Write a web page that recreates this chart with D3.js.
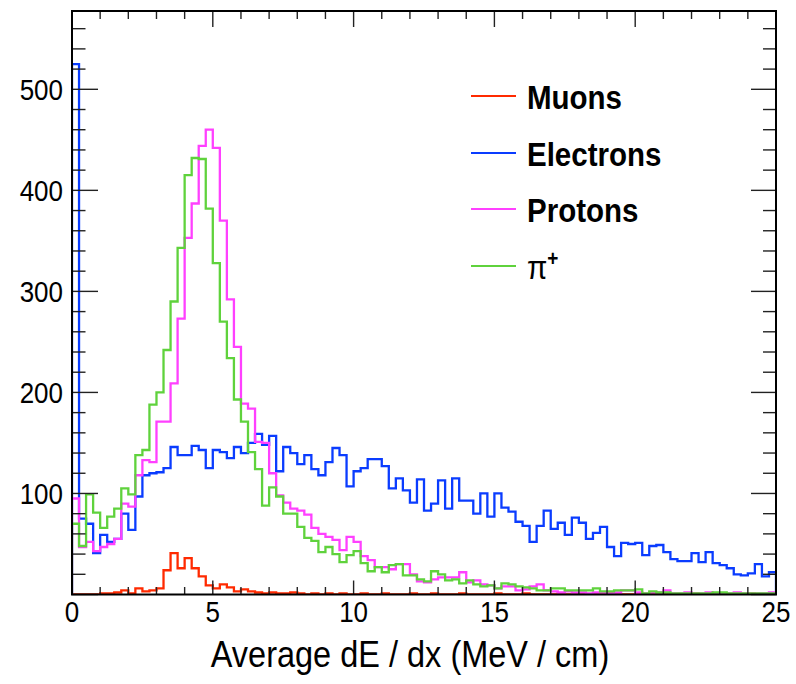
<!DOCTYPE html>
<html>
<head>
<meta charset="utf-8">
<script src="https://cdn.jsdelivr.net/npm/d3@7"></script>
<style>
  html, body { margin: 0; padding: 0; background: #fff; }
  svg { display: block; }
  text { font-family: "Liberation Sans", Arial, Helvetica, sans-serif; fill: #000; }
</style>
</head>
<body>
<svg id="chart" width="796" height="684"></svg>
<script>
// Histogram binning: 100 bins of width 0.25 MeV/cm from 0 to 25
const xMin = 0, xMax = 25, binWidth = 0.25;

// Bin contents per particle type
const muons = [
  0, 0, 0, 0, 1, 1, 2, 4, 1, 6,
  3, 4, 6, 24, 41, 26, 36, 26, 18, 9,
  6, 10, 7, 3, 5, 3, 2, 1, 2, 1,
  1, 2, 1, 0, 1, 0, 1, 0, 1, 0,
  0, 1, 0, 0, 1, 0, 0, 0, 1, 0,
  0, 1, 0, 0, 0, 1, 0, 0, 0, 0,
  1, 0, 0, 0, 1, 0, 0, 0, 0, 1,
  0, 0, 1, 0, 0, 0, 1, 0, 0, 0,
  0, 0, 1, 0, 0, 0, 0, 0, 1, 0,
  0, 0, 0, 0, 0, 0, 1, 0, 0, 0
];
const electrons = [
  525, 75, 70, 41, 59, 52, 55, 80, 64, 97,
  118, 120, 121, 125, 146, 138, 138, 147, 143, 125,
  143, 141, 135, 146, 140, 150, 159, 148, 157, 122,
  146, 140, 129, 138, 124, 118, 131, 145, 138, 107,
  122, 125, 134, 134, 127, 105, 115, 103, 91, 114,
  83, 90, 113, 85, 115, 93, 93, 80, 100, 77,
  100, 86, 82, 72, 68, 52, 68, 83, 65, 71,
  59, 76, 71, 55, 61, 67, 47, 38, 51, 50,
  51, 39, 48, 49, 42, 35, 33, 33, 41, 32,
  42, 31, 29, 26, 20, 19, 21, 30, 18, 22
];
const protons = [
  95, 47, 52, 43, 47, 50, 55, 90, 87, 118,
  133, 131, 171, 171, 209, 273, 353, 387, 444, 460,
  442, 370, 292, 245, 189, 184, 151, 150, 120, 98,
  91, 85, 83, 79, 66, 60, 57, 54, 44, 57,
  52, 38, 34, 27, 27, 25, 30, 30, 20, 13,
  12, 15, 17, 17, 17, 22, 12, 14, 10, 9,
  6, 8, 8, 4, 5, 8, 10, 4, 3, 2,
  3, 2, 2, 1, 2, 2, 1, 2, 4, 4,
  2, 1, 2, 2, 4, 1, 1, 2, 1, 1,
  2, 1, 1, 1, 2, 1, 1, 1, 1, 2
];
const pions = [
  70, 48, 99, 81, 66, 77, 85, 105, 99, 138,
  143, 188, 200, 242, 290, 343, 415, 432, 431, 382,
  328, 270, 234, 193, 171, 141, 124, 88, 106, 97,
  80, 80, 67, 56, 53, 42, 47, 40, 32, 39,
  43, 31, 23, 27, 22, 29, 30, 19, 19, 15,
  13, 23, 20, 14, 15, 11, 14, 10, 8, 9,
  6, 11, 10, 8, 7, 6, 4, 4, 6, 6,
  4, 4, 4, 4, 6, 3, 3, 4, 4, 4,
  5, 1, 3, 2, 2, 1, 1, 1, 1, 1,
  1, 2, 2, 1, 1, 1, 1, 1, 1, 1
];

const seriesNames = ["Muons", "Electrons", "Protons", "π"];
const seriesColors = ["#ff2a00", "#0a3cff", "#ff40ff", "#5fd23c"];
const seriesData = [muons, electrons, protons, pions];

const xTickValues = [0, 5, 10, 15, 20, 25];
const yTickValues = [100, 200, 300, 400, 500];
const yMax = 577.5;

// Frame geometry
const frame = { left: 72, right: 776, top: 11, bottom: 594.5 };
const textStretch = 1.12;

const svg = d3.select("#chart");

const x = d3.scaleLinear().domain([xMin, xMax]).range([frame.left, frame.right]);
const y = d3.scaleLinear().domain([0, yMax]).range([frame.bottom, frame.top]);

svg.append("defs").append("clipPath").attr("id", "plotClip")
  .append("rect")
  .attr("x", frame.left).attr("y", frame.top)
  .attr("width", frame.right - frame.left)
  .attr("height", frame.bottom - frame.top);

// Step outline for one histogram, closed down to the baseline at both ends
function histPoints(values) {
  const pts = [[xMin, 0]];
  values.forEach((v, i) => pts.push([xMin + i * binWidth, v]));
  pts.push([xMin + values.length * binWidth, values[values.length - 1]]);
  pts.push([xMin + values.length * binWidth, 0]);
  return pts;
}
const stepLine = d3.line()
  .x(d => x(d[0]))
  .y(d => y(d[1]))
  .curve(d3.curveStepAfter);

const plot = svg.append("g").attr("clip-path", "url(#plotClip)");
seriesData.forEach((vals, k) => {
  plot.append("path")
    .attr("d", stepLine(histPoints(vals)))
    .attr("fill", "none")
    .attr("stroke", seriesColors[k])
    .attr("stroke-width", 2.3)
    .attr("stroke-linejoin", "miter");
});

// Ticks on all four sides
const tickG = svg.append("g").attr("stroke", "#222").attr("stroke-width", 1.4);
const xMinor = d3.range(xMin, xMax + 0.001, 1);
xMinor.forEach(v => {
  const major = xTickValues.includes(v);
  const px = x(v);
  tickG.append("line").attr("x1", px).attr("x2", px)
    .attr("y1", frame.bottom).attr("y2", frame.bottom - (major ? 14 : 7.5));
  tickG.append("line").attr("x1", px).attr("x2", px)
    .attr("y1", frame.top).attr("y2", frame.top + (major ? 16 : 8));
});
const yMinor = d3.range(0, yMax, 20);
yMinor.forEach(v => {
  const major = v % 100 === 0;
  const py = y(v);
  tickG.append("line").attr("y1", py).attr("y2", py)
    .attr("x1", frame.left).attr("x2", frame.left + (major ? 26 : 13.5));
  tickG.append("line").attr("y1", py).attr("y2", py)
    .attr("x1", frame.right).attr("x2", frame.right - (major ? 25 : 13));
});

// Frame
svg.append("rect")
  .attr("x", frame.left).attr("y", frame.top)
  .attr("width", frame.right - frame.left)
  .attr("height", frame.bottom - frame.top)
  .attr("fill", "none").attr("stroke", "#000").attr("stroke-width", 2);

function stretchedText(px, py, str, size, anchor, weight) {
  const g = svg.append("g").attr("transform", `translate(${px},${py}) scale(1,${textStretch})`);
  return g.append("text")
    .attr("text-anchor", anchor)
    .attr("font-size", size)
    .attr("font-weight", weight || "normal")
    .text(str);
}

// Tick labels
xTickValues.forEach(v => stretchedText(x(v), 622, String(v), 26, "middle"));
yTickValues.forEach(v => stretchedText(63, y(v) + 10.5, String(v), 26, "end"));

// Axis title
stretchedText(410, 667, "Average dE / dx (MeV / cm)", 32.5, "middle");

// Legend
const legendRowY = [96, 153, 209, 266];
seriesNames.forEach((name, k) => {
  const ly = legendRowY[k];
  svg.append("line")
    .attr("x1", 471).attr("x2", 516).attr("y1", ly).attr("y2", ly)
    .attr("stroke", seriesColors[k]).attr("stroke-width", 2.2);
  const t = stretchedText(527, ly + 13, name, 29.5, "start", k < 3 ? "bold" : "normal");
  if (k === 3) {
    t.append("tspan").attr("font-size", 19).attr("font-weight", "bold").attr("dy", -12).text("+");
  }
});
</script>
</body>
</html>
